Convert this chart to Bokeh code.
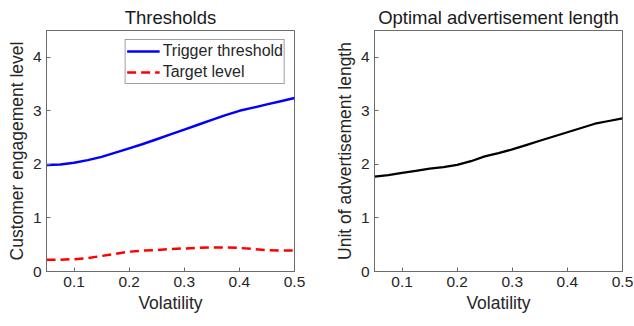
from bokeh.plotting import figure
from bokeh.layouts import row
from bokeh.models import Range1d, FixedTicker, Legend, LegendItem
from bokeh.embed import file_html
from bokeh.resources import INLINE

# ---- data ----
volatility = [0.05, 0.075, 0.10, 0.125, 0.15, 0.175, 0.20, 0.225, 0.25, 0.275,
              0.30, 0.325, 0.35, 0.375, 0.40, 0.425, 0.45, 0.475, 0.50]
trigger_threshold = [1.99, 2.00, 2.03, 2.08, 2.14, 2.22, 2.30, 2.38, 2.47, 2.56,
                     2.65, 2.74, 2.83, 2.92, 3.00, 3.06, 3.12, 3.18, 3.24]
target_level = [0.22, 0.22, 0.23, 0.25, 0.29, 0.33, 0.37, 0.39, 0.40, 0.42,
                0.43, 0.44, 0.45, 0.45, 0.44, 0.42, 0.40, 0.39, 0.39]
ad_length = [1.77, 1.80, 1.84, 1.88, 1.92, 1.95, 1.99, 2.06, 2.15, 2.21,
             2.28, 2.36, 2.44, 2.52, 2.60, 2.68, 2.76, 2.81, 2.86]
x_ticks = [0.1, 0.2, 0.3, 0.4, 0.5]
y_ticks = [0, 1, 2, 3, 4]

FONT = "Liberation Sans"
TXT = "#262626"
FRAME = "#6b6b6b"


def make_fig(title, ylabel, left, right):
    p = figure(width=317, height=326, output_backend="svg", toolbar_location=None,
               x_range=Range1d(0.05, 0.5), y_range=Range1d(0, 4.5),
               min_border_left=left, min_border_right=right,
               min_border_top=30, min_border_bottom=55)
    p.title.text = title
    p.title.align = "center"
    p.title.text_font = FONT
    p.title.text_font_size = "18.5px"
    p.title.text_font_style = "normal"
    p.title.text_color = "#1a1a1a"
    p.title.standoff = 5
    p.xgrid.visible = False
    p.ygrid.visible = False
    p.outline_line_color = FRAME
    p.outline_line_width = 1
    p.background_fill_color = "white"
    p.border_fill_color = "white"
    for ax in (p.xaxis[0], p.yaxis[0]):
        ax.axis_line_color = FRAME
        ax.major_tick_line_color = FRAME
        ax.major_tick_in = 4
        ax.major_tick_out = 0
        ax.minor_tick_line_color = None
        ax.major_label_text_font = FONT
        ax.major_label_text_font_size = "15.5px"
        ax.major_label_text_color = TXT
        ax.axis_label_text_font = FONT
        ax.axis_label_text_font_size = "17.5px"
        ax.axis_label_text_font_style = "normal"
        ax.axis_label_text_color = TXT
        ax.major_label_standoff = 5
        ax.axis_label_standoff = 3
    p.xaxis.ticker = FixedTicker(ticks=x_ticks)
    p.yaxis.ticker = FixedTicker(ticks=y_ticks)
    p.xaxis.axis_label = "Volatility"
    p.yaxis.axis_label = ylabel
    return p


p1 = make_fig("Thresholds", "Customer engagement level", 46, 23)
r1 = p1.line(volatility, trigger_threshold, line_color="#0000ff", line_width=2.5)
r2 = p1.line(volatility, target_level, line_color="#ff0000", line_width=2.5,
             line_dash="9 5")
legend = Legend(items=[LegendItem(label="Trigger threshold", renderers=[r1]),
                       LegendItem(label="Target level", renderers=[r2])],
                location="top_right")
legend.label_text_font = FONT
legend.label_text_font_size = "16px"
legend.label_text_color = TXT
legend.border_line_color = "#404040"
legend.border_line_width = 1
legend.background_fill_color = "white"
legend.background_fill_alpha = 1
legend.glyph_width = 33
legend.glyph_height = 20
legend.label_height = 20
legend.label_standoff = 3
legend.padding = 1
legend.spacing = 1
legend.margin = 9
p1.add_layout(legend)

p2 = make_fig("Optimal advertisement length", "Unit of advertisement length", 57, 12)
p2.line(volatility, ad_length, line_color="#000000", line_width=2.2)

layout = row(p1, p2, spacing=0)
open("out.html", "w").write(file_html(layout, INLINE))
